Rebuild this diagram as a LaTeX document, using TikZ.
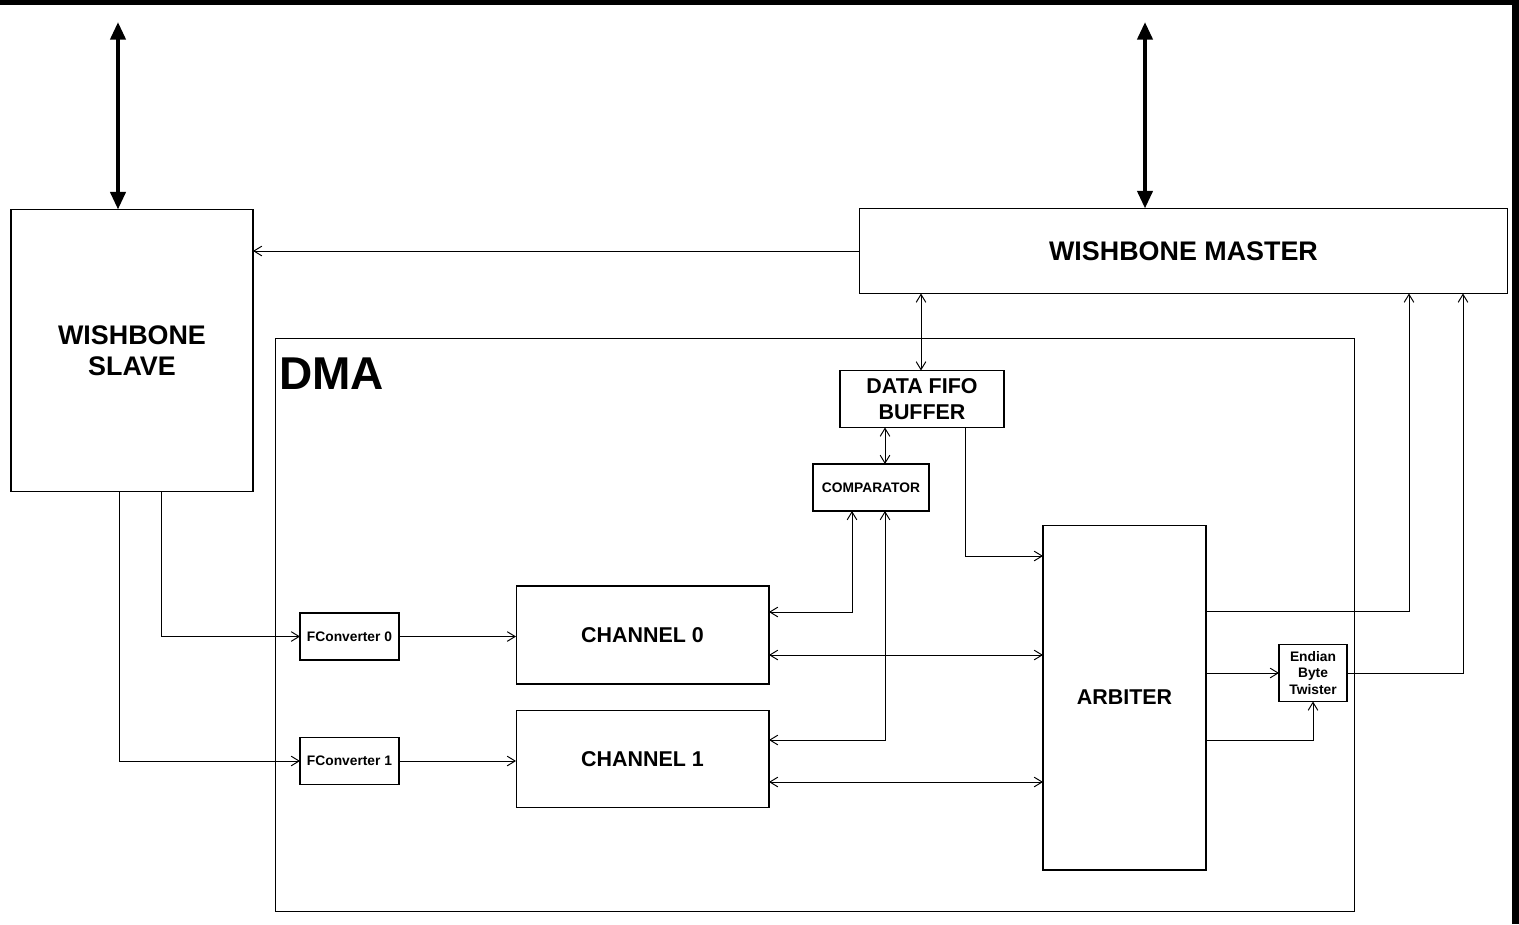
\documentclass[tikz,border=0pt]{standalone}
\usepackage{fontspec}
\setmainfont{Liberation Sans}
\usetikzlibrary{arrows.meta}

\tikzset{
  block/.style={draw,line width=0.6pt,inner sep=0pt,outer sep=0pt,align=center},
  bigfont/.style={font=\bfseries\fontsize{15.3}{17.8}\selectfont},
  midfont/.style={font=\bfseries\fontsize{12.2}{14.8}\selectfont},
  smallfont/.style={font=\bfseries\fontsize{7.85}{9.6}\selectfont},
  bus/.style={line width=2.3pt,{Triangle[length=10pt,width=8.5pt]}-{Triangle[length=10pt,width=8.5pt]}},
  link/.style={line width=0.55pt,-{Straight Barb[length=4.5pt,width=5.5pt]}},
  twoway/.style={line width=0.55pt,{Straight Barb[length=4.5pt,width=5.5pt]}-{Straight Barb[length=4.5pt,width=5.5pt]}}
}

\begin{document}
\begin{tikzpicture}[x=0.02cm,y=-0.02cm]
\useasboundingbox (0,0) rectangle (1519,924);
\fill (0,0) rectangle (1519,4.5);
\fill (1512,0) rectangle (1519,924);

% outer blocks
\node[block,bigfont,minimum width=4.84cm,minimum height=5.64cm] (slave) at (132,350.5) {WISHBONE\\SLAVE};
\node[block,bigfont,minimum width=12.98cm,minimum height=1.7cm] (master) at (1183.5,251) {WISHBONE MASTER};
\node[block,minimum width=21.6cm,minimum height=11.48cm] (dma) at (815,625) {};
\node[anchor=base west,inner sep=0pt,font=\bfseries\fontsize{26.2}{30}\selectfont] (dmalabel) at (279,389) {DMA};

% inside the DMA
\node[block,midfont,minimum width=3.28cm,minimum height=1.14cm] (fifo) at (922,399) {DATA FIFO\\BUFFER};
\node[block,smallfont,minimum width=2.32cm,minimum height=0.94cm] (comp) at (871,487.5) {COMPARATOR};
\node[block,midfont,minimum width=3.26cm,minimum height=6.9cm] (arb) at (1124.5,697.5) {ARBITER};
\node[block,midfont,minimum width=5.06cm,minimum height=1.96cm] (ch0) at (642.5,635) {CHANNEL 0};
\node[block,midfont,minimum width=5.06cm,minimum height=1.94cm] (ch1) at (642.5,759) {CHANNEL 1};
\node[block,smallfont,minimum width=1.98cm,minimum height=0.94cm] (fc0) at (349.5,636.5) {FConverter 0};
\node[block,smallfont,minimum width=1.98cm,minimum height=0.94cm] (fc1) at (349.5,761) {FConverter 1};
\node[block,smallfont,minimum width=1.36cm,minimum height=1.14cm] (twist) at (1313,673) {Endian\\Byte\\Twister};

% bus ends
\coordinate (sbus) at (118,22);
\coordinate (mbus) at (1145,22);
\draw[bus] (sbus) -- (sbus |- slave.north);
\draw[bus] (mbus) -- (mbus |- master.north);

% connectors
\draw[link] (master.west) -- (slave.east |- master.west);
\draw[twoway] (fifo.north -| 921,0) -- (master.south -| 921,0);
\draw[twoway] (fifo.south -| 885,0) -- (comp.north -| 885,0);
\draw[link] (fifo.south -| 965,0) |- (arb.west |- 0,556);
\draw[twoway] (ch0.east |- 0,612) -| (comp.south -| 852,0);
\draw[twoway] (ch1.east |- 0,740) -| (comp.south -| 885,0);
\draw[twoway] (ch0.east |- 0,655) -- (arb.west |- 0,655);
\draw[twoway] (ch1.east |- 0,782) -- (arb.west |- 0,782);
\draw[link] (arb.east |- 0,611) -| (master.south -| 1409,0);
\draw[link] (arb.east |- twist.west) -- (twist.west);
\draw[link] (arb.east |- 0,740) -| (twist.south);
\draw[link] (twist.east) -| (master.south -| 1463,0);
\draw[link] (slave.south -| 161,0) |- (fc0.west);
\draw[link] (slave.south -| 119,0) |- (fc1.west);
\draw[link] (fc0.east) -- (ch0.west |- fc0.east);
\draw[link] (fc1.east) -- (ch1.west |- fc1.east);
\end{tikzpicture}
\end{document}
